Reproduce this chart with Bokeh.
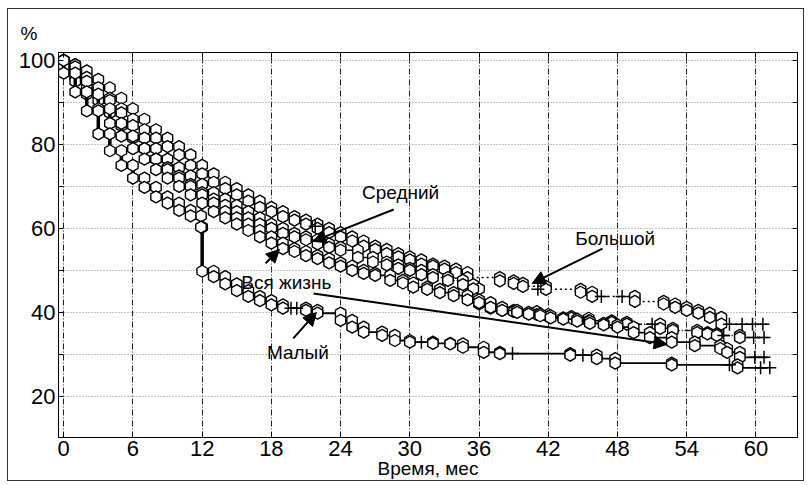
import numpy as np
from bokeh.plotting import figure
from bokeh.models import FixedTicker, LinearAxis, Range1d, Label, Arrow, NormalHead
from bokeh.embed import file_html
from bokeh.resources import INLINE

# ---------------- data ----------------
x_ticks = [0, 6, 12, 18, 24, 30, 36, 42, 48, 54, 60]
y_ticks = [10, 20, 30, 40, 50, 60, 70, 80, 90, 100]
y_tick_labels = {10: "", 20: "20", 30: "", 40: "40", 50: "", 60: "60", 70: "", 80: "80", 90: "", 100: "100"}
start_value = 100
end_time = 61.0

bol_t = [0, 1, 2, 3, 4, 5, 6, 7, 8, 9, 10, 11, 12, 13, 14, 15, 16, 17, 18, 19, 20, 21, 22, 23, 24,
         25, 26, 27, 28, 29, 30, 31, 32, 33, 34, 35, 37.8, 39, 39.8, 41.8, 44.8, 45.8, 49.5, 52, 53,
         54, 55, 56, 57]
bol_s = [99, 97.5, 95.5, 93.5, 91, 88.5, 86, 83.5, 81.5, 79.5, 77.5, 75, 73, 71, 69.5, 68, 66.5, 65,
         64, 62.8, 62, 61, 60, 59, 58, 57, 55.8, 55, 54, 53.2, 52.5, 51.5, 51, 50.3, 49.5, 48.3, 47.5,
         46.9, 46.2, 45.5, 44.8, 43.8, 42.6, 42, 41.2, 40.5, 39.8, 38.8, 37.2]
bol_cx = [21.8, 41.1, 46.6, 48.4, 57.7, 58.8, 59.7, 60.6]
bol_cy = [60.5, 45.5, 43.8, 43.8, 37.2, 37.2, 37.2, 37.2]

sred_t = [0, 1, 2, 3, 4, 5, 6, 7, 8, 9, 10, 11, 12, 13, 14, 15, 16, 17, 18, 19, 20, 21, 22, 23, 24,
          25.5, 26.8, 28, 29, 30, 31, 32, 33.3, 34.6, 35.5, 36, 37, 38, 39, 41, 42, 44, 45.5, 47.5,
          48.8, 51.7, 52.8, 54.9, 55.8, 56.6, 58.6]
sred_s = [99, 96, 93.5, 90.5, 87.5, 84.5, 81.5, 79, 76.5, 74.5, 72.5, 70.5, 68.5, 67, 65.5, 64, 62.5,
          61, 60, 58.8, 58, 57.3, 56.3, 55.5, 54.8, 53.1, 52, 51.3, 50.5, 50, 49, 48.3, 47.6, 46.6,
          45.6, 42, 41, 40.5, 40.2, 39.5, 39, 38.6, 38, 37.6, 37.2, 36.2, 35.7, 35.2, 34.9, 34.5, 34]
sred_cx = [51, 57.2, 59.8, 60.7]
sred_cy = [37.2, 34.5, 34, 34]

vse_t = [0, 1, 2, 3, 4, 5, 6, 7, 8, 9, 10, 11, 12, 13, 14, 15, 16, 17, 18, 19, 20, 21, 22, 23, 24,
         25, 26, 27, 28.3, 29.4, 30.3, 31.5, 32.6, 33.8, 35, 36, 37, 38, 39.3, 40.3, 41.3, 42.2, 43.3,
         44.5, 45.6, 46.8, 48, 49.4, 50.8, 52.7, 54.7, 56.9, 57.5, 58.6]
vse_s = [98.5, 95, 92, 88.5, 85, 82, 79, 76.5, 74, 72, 70, 68, 66, 64, 62.5, 61, 59.5, 58, 56.5, 55.2,
         54.5, 53.5, 52.8, 51.8, 51, 50, 49.3, 48.8, 47.6, 47, 46, 45.5, 44.7, 44, 43, 42.3, 41.2,
         40.5, 40, 39.6, 39.2, 38.7, 38.4, 37.9, 37.4, 37, 36.5, 35.2, 34, 32.9, 32.1, 31.4, 30.5, 29.3]
vse_cx = [59.9, 60.7]
vse_cy = [29.3, 29.3]

mal_t = [0, 1, 2, 3, 4, 5, 6, 7, 8, 9, 10, 11, 11.9, 12, 13, 14, 15, 16, 17, 18, 19, 21, 22, 24, 25,
         26, 27.6, 28.7, 30, 32, 33.5, 34.6, 36.4, 37.8, 43.9, 46.2, 47.8, 52.7, 58.4]
mal_s = [97, 92.5, 88, 82.5, 78.5, 75, 72, 69.8, 67.5, 66, 64.3, 63, 60.3, 49.8, 48.5, 46.8, 45.2,
         43.8, 42.8, 41.8, 41, 40.5, 39.8, 38.1, 36.5, 35.3, 34.5, 33.3, 32.9, 32.6, 32.5, 31.7, 30.5,
         30.2, 29.8, 29, 27.9, 27.5, 26.8]
mal_cx = [19.7, 20.2, 31, 38.9, 45, 57.7, 60.4, 61.2]
mal_cy = [41, 41, 32.9, 30.2, 29.8, 27.5, 26.8, 26.8]

FONT = "Liberation Sans"

p = figure(width=797, height=473, x_range=Range1d(-0.45, 63.6), y_range=Range1d(10.2, 101.9),
           output_backend="svg", toolbar_location=None,
           min_border_left=50, min_border_right=8, min_border_top=43, min_border_bottom=45)
p.styles = {"border": "1px solid #333", "margin-left": "7px", "margin-top": "8px"}
p.background_fill_color = "white"
p.border_fill_color = "white"
p.outline_line_color = "black"
p.outline_line_width = 1

# "%" as the title, top left
p.title.text = "%"
p.title.align = "left"
p.title.offset = -38
p.title.standoff = 17
p.title.text_font = FONT
p.title.text_font_size = "19px"
p.title.text_font_style = "normal"
p.title.text_color = "black"

# grid
p.xgrid.ticker = FixedTicker(ticks=x_ticks)
p.ygrid.ticker = FixedTicker(ticks=y_ticks)
p.xgrid.grid_line_color = "#222222"
p.xgrid.grid_line_dash = "6 2 1 2"
p.xgrid.grid_line_width = 1
p.ygrid.grid_line_color = "#8a8a8a"
p.ygrid.grid_line_dash = "1 2"
p.ygrid.grid_line_width = 1

def style_axis(ax):
    ax.axis_line_color = "black"
    ax.major_tick_in = 5
    ax.major_tick_out = 0
    ax.minor_tick_line_color = None
    ax.major_tick_line_color = "black"
    ax.major_label_text_font = FONT
    ax.major_label_text_font_size = "22px"
    ax.major_label_text_color = "black"

p.xaxis.ticker = FixedTicker(ticks=x_ticks)
p.yaxis.ticker = FixedTicker(ticks=y_ticks)
p.yaxis.major_label_overrides = y_tick_labels
style_axis(p.xaxis[0])
style_axis(p.yaxis[0])
p.xaxis.major_label_standoff = 3
p.yaxis.major_label_standoff = 3
p.xaxis.axis_label = "Время, мес"
p.xaxis.axis_label_text_font = FONT
p.xaxis.axis_label_text_font_size = "19px"
p.xaxis.axis_label_text_font_style = "normal"
p.xaxis.axis_label_text_color = "black"
p.xaxis.axis_label_standoff = -1

top = LinearAxis(ticker=FixedTicker(ticks=x_ticks), major_label_overrides={t: "" for t in x_ticks})
right = LinearAxis(ticker=FixedTicker(ticks=y_ticks), major_label_overrides={t: "" for t in y_ticks})
for ax in (top, right):
    style_axis(ax)
    ax.major_label_standoff = 0
    ax.major_label_text_font_size = "1px"
p.add_layout(top, "above")
p.add_layout(right, "right")


def draw_curve(t, s, cx, cy, dash, width):
    t = list(t)
    s = list(s)
    prev = [start_value] + s[:-1]
    xs = [t[0]] + t + [end_time]
    ys = [start_value] + s + [s[-1]]
    p.step(xs, ys, mode="after", line_color="black", line_width=width, line_dash=dash)
    p.segment(x0=t, y0=prev, x1=t, y1=s, line_color="black", line_width=3.5)
    mx = t + t
    my = prev + s
    p.scatter(mx, my, marker="hex", size=12, angle=np.pi / 6, fill_color="white",
              line_color="black", line_width=1.4)
    p.scatter(cx, cy, marker="cross", size=13, line_color="black", line_width=1.5)

draw_curve(bol_t, bol_s, bol_cx, bol_cy, "2 3", 1.5)
draw_curve(sred_t, sred_s, sred_cx, sred_cy, "6 2 1 2", 1.5)
draw_curve(vse_t, vse_s, vse_cx, vse_cy, "solid", 1.8)
draw_curve(mal_t, mal_s, mal_cx, mal_cy, "solid", 1.8)

def add_text(x, y, txt, size="19px"):
    p.add_layout(Label(x=x, y=y, text=txt, text_font=FONT, text_font_size=size,
                       text_align="center", text_baseline="middle", text_color="black"))

add_text(29.2, 68.6, "Средний")
add_text(47.8, 57.6, "Большой")
add_text(19.3, 47.1, "Вся жизнь")
add_text(20.3, 30.5, "Малый")

def add_arrow(x0, y0, x1, y1):
    p.add_layout(Arrow(end=NormalHead(size=13, fill_color="black", line_color="black"),
                       x_start=x0, y_start=y0, x_end=x1, y_end=y1,
                       line_color="black", line_width=2))

add_arrow(28.6, 64.5, 21.6, 56.9)
add_arrow(17.5, 51.7, 18.7, 55.0)
add_arrow(21.65, 44.5, 52.3, 32.4)
add_arrow(46.7, 55.2, 40.6, 46.9)
add_arrow(19.9, 33.8, 21.9, 40.0)

open("out.html", "w").write(file_html(p, INLINE))
